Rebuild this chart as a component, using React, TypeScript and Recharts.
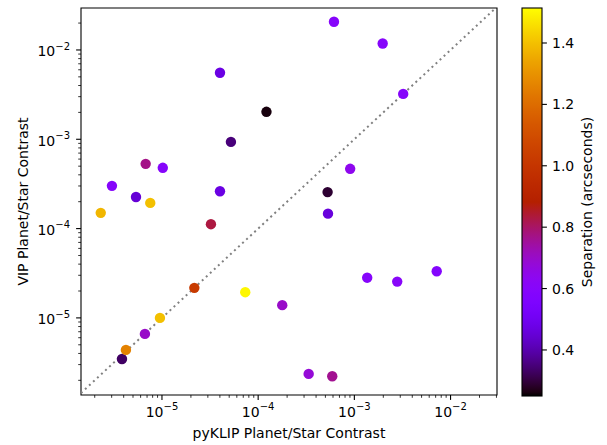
import React from 'react';
import { ScatterChart, Scatter, XAxis, YAxis, ReferenceLine, ReferenceArea } from 'recharts';

// ---- data ----
const pyklipContrast = [
  6.14e-4, 1.97e-3, 3.22e-3, 9.05e-4, 5.27e-4, 5.32e-4, 4.01e-5, 1.22e-4,
  5.21e-5, 6.77e-6, 1.02e-5, 3.02e-6, 5.37e-6, 7.56e-6, 4.01e-5, 2.31e-6,
  3.23e-5, 2.17e-5, 7.34e-5, 1.78e-4, 9.53e-6, 6.65e-6, 3.84e-6, 4.22e-6,
  1.36e-3, 2.79e-3, 7.18e-3, 3.35e-4, 5.89e-4,
];
const vipContrast = [
  2.07e-2, 1.18e-2, 3.22e-3, 4.67e-4, 2.56e-4, 1.47e-4, 5.55e-3, 2.03e-3,
  9.35e-4, 5.31e-4, 4.79e-4, 3.01e-4, 2.26e-4, 1.94e-4, 2.62e-4, 1.50e-4,
  1.12e-4, 2.17e-5, 1.94e-5, 1.39e-5, 1.0e-5, 6.62e-6, 3.47e-6, 4.38e-6,
  2.82e-5, 2.55e-5, 3.33e-5, 2.36e-6, 2.22e-6,
];
const separationArcsec = [
  0.6, 0.6, 0.6, 0.64, 0.29, 0.46, 0.47, 0.26,
  0.35, 0.77, 0.6, 0.6, 0.45, 1.4, 0.47, 1.38,
  0.83, 1.02, 1.5, 0.7, 1.4, 0.7, 0.33, 1.26,
  0.6, 0.61, 0.59, 0.68, 0.76,
];
const colorbarTicks = [0.4, 0.6, 0.8, 1.0, 1.2, 1.4];
const SEP_MIN = 0.25;
const SEP_MAX = 1.514;
const X_DOMAIN: [number, number] = [1.44e-6, 3.04e-2];
const Y_DOMAIN: [number, number] = [1.37e-6, 2.95e-2];
const DECADES = [-6, -5, -4, -3, -2];
const MULTIPLES = [1, 2, 3, 4, 5, 6, 7, 8, 9];

const X_LABEL = 'pyKLIP Planet/Star Contrast';
const Y_LABEL = 'VIP Planet/Star Contrast';
const CB_LABEL = 'Separation (arcseconds)';

const FONT = '"DejaVu Sans", sans-serif';

const logTicks = (dom: [number, number]) => {
  const out: number[] = [];
  DECADES.forEach((e) =>
    MULTIPLES.forEach((m) => {
      const v = Number((m * Math.pow(10, e)).toPrecision(6));
      if (v >= dom[0] && v <= dom[1]) out.push(v);
    })
  );
  return out;
};
const xTicks = logTicks(X_DOMAIN);
const yTicks = logTicks(Y_DOMAIN);

const gnuplot = (t: number) => {
  const c = Math.max(0, Math.min(1, t));
  const r = Math.sqrt(c);
  const g = c * c * c;
  const b = Math.max(0, Math.sin(2 * Math.PI * c));
  const h = (v: number) => Math.round(Math.max(0, Math.min(1, v)) * 255);
  return `rgb(${h(r)},${h(g)},${h(b)})`;
};
const sepColor = (s: number) => gnuplot((s - SEP_MIN) / (SEP_MAX - SEP_MIN));

const points = pyklipContrast.map((x, i) => ({ x, y: vipContrast[i], s: separationArcsec[i] }));

const isMajor = (v: number) => {
  const e = Math.round(Math.log10(v));
  return Math.abs(v / Math.pow(10, e) - 1) < 1e-6;
};
const expOf = (v: number) => Math.round(Math.log10(v));

const XTick = (props: any) => {
  const { x, y, payload } = props;
  const v = payload.value;
  const major = isMajor(v);
  const e = expOf(v);
  return (
    <g>
      <line x1={x} x2={x} y1={y} y2={y + (major ? 4.9 : 2.8)} stroke="#000" strokeWidth={major ? 1.1 : 0.8} />
      {major && (
        <text x={x} y={y + 21.7} textAnchor="middle" fontFamily={FONT} fontSize={14} fill="#000">
          10
          <tspan dy={-6.7} fontSize={10}>{'\u2212' + Math.abs(e)}</tspan>
        </text>
      )}
    </g>
  );
};

const YTick = (props: any) => {
  const { x, y, payload } = props;
  const v = payload.value;
  const major = isMajor(v);
  const e = expOf(v);
  return (
    <g>
      <line x1={x} x2={x - (major ? 4.9 : 2.8)} y1={y} y2={y} stroke="#000" strokeWidth={major ? 1.1 : 0.8} />
      {major && (
        <text x={x - 11} y={y + 6.5} textAnchor="end" fontFamily={FONT} fontSize={14} fill="#000">
          10
          <tspan dy={-6.7} fontSize={10}>{'\u2212' + Math.abs(e)}</tspan>
        </text>
      )}
    </g>
  );
};

const Dot = (props: any) => {
  const { cx, cy, payload } = props;
  if (cx == null || cy == null) return <g />;
  return <circle cx={cx} cy={cy} r={5.2} fill={sepColor(payload.s)} />;
};

const CB_X = 522;
const CB_W = 20;
const CB_TOP = 8;
const CB_BOTTOM = 396;
const cbY = (v: number) => CB_BOTTOM - ((v - SEP_MIN) / (SEP_MAX - SEP_MIN)) * (CB_BOTTOM - CB_TOP);
const gradStops = Array.from({ length: 101 }, (_, i) => i / 100);

export default function App() {
  return (
    <div style={{ position: 'absolute', left: 0, top: 0, width: 607, height: 445, background: '#fff' }}>
      <ScatterChart width={607} height={445} margin={{ top: 8, right: 110, bottom: 0, left: 0 }}>
        <XAxis
          type="number"
          dataKey="x"
          scale="log"
          domain={X_DOMAIN}
          allowDataOverflow
          ticks={xTicks}
          interval={0}
          tick={<XTick />}
          tickLine={false}
          axisLine={false}
          tickSize={0}
          tickMargin={0}
          height={50}
        />
        <YAxis
          type="number"
          dataKey="y"
          scale="log"
          domain={Y_DOMAIN}
          allowDataOverflow
          ticks={yTicks}
          interval={0}
          tick={<YTick />}
          tickLine={false}
          axisLine={false}
          tickSize={0}
          tickMargin={0}
          width={81}
        />
        <ReferenceLine
          segment={[
            { x: Math.max(X_DOMAIN[0], Y_DOMAIN[0]), y: Math.max(X_DOMAIN[0], Y_DOMAIN[0]) },
            { x: Math.min(X_DOMAIN[1], Y_DOMAIN[1]), y: Math.min(X_DOMAIN[1], Y_DOMAIN[1]) },
          ]}
          stroke="#808080"
          strokeWidth={2}
          strokeDasharray="2 3.5"
        />
        <Scatter data={points} shape={<Dot />} isAnimationActive={false} />
        <ReferenceArea
          x1={X_DOMAIN[0]}
          x2={X_DOMAIN[1]}
          y1={Y_DOMAIN[0]}
          y2={Y_DOMAIN[1]}
          fill="none"
          fillOpacity={0}
          stroke="#000"
          strokeWidth={1.1}
        />
      </ScatterChart>
      <svg width={607} height={445} style={{ position: 'absolute', left: 0, top: 0, pointerEvents: 'none' }}>
        <defs>
          <linearGradient id="cbgrad" x1="0" y1="1" x2="0" y2="0">
            {gradStops.map((t) => (
              <stop key={t} offset={t} stopColor={gnuplot(t)} />
            ))}
          </linearGradient>
        </defs>
        <rect x={CB_X} y={CB_TOP} width={CB_W} height={CB_BOTTOM - CB_TOP} fill="url(#cbgrad)" stroke="#000" strokeWidth={1.1} />
        {colorbarTicks.map((v) => (
          <g key={v}>
            <line x1={CB_X + CB_W} x2={CB_X + CB_W + 4.9} y1={cbY(v)} y2={cbY(v)} stroke="#000" strokeWidth={1.1} />
            <text x={CB_X + CB_W + 10} y={cbY(v) + 5} fontFamily={FONT} fontSize={14} fill="#000">
              {v.toFixed(1)}
            </text>
          </g>
        ))}
        <text x={289} y={437.5} textAnchor="middle" fontFamily={FONT} fontSize={14} fill="#000">
          {X_LABEL}
        </text>
        <text
          x={27.5}
          y={201.5}
          textAnchor="middle"
          transform="rotate(-90 27.5 201.5)"
          fontFamily={FONT}
          fontSize={14}
          fill="#000"
        >
          {Y_LABEL}
        </text>
        <text
          x={592}
          y={202}
          textAnchor="middle"
          transform="rotate(-90 592 202)"
          fontFamily={FONT}
          fontSize={14}
          fill="#000"
        >
          {CB_LABEL}
        </text>
      </svg>
    </div>
  );
}
